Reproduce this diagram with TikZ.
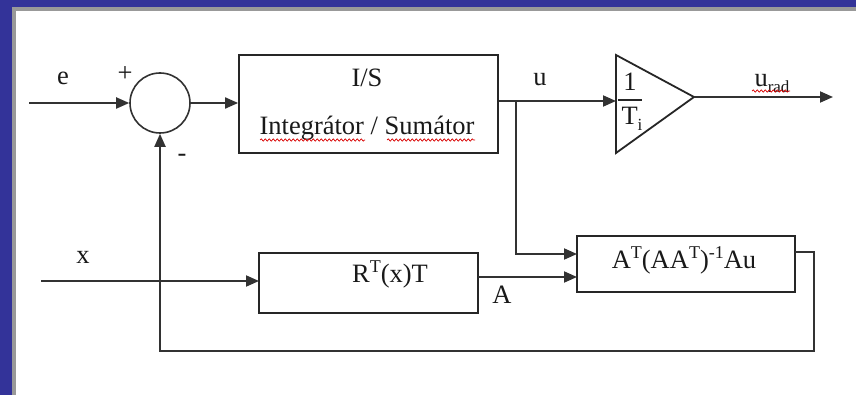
\documentclass[tikz,border=0pt]{standalone}
\usepackage{fontspec}
\setmainfont{Liberation Serif}
\usetikzlibrary{arrows.meta,decorations.pathmorphing}
\definecolor{frameblue}{RGB}{51,51,153}
\definecolor{framegray}{RGB}{153,153,153}
\definecolor{ln}{RGB}{50,50,50}
\newcommand{\supx}[1]{\raisebox{0.38em}{\fontsize{18}{18}\selectfont #1}}
\newcommand{\subx}[1]{\raisebox{-0.22em}{\fontsize{17}{17}\selectfont #1}}
\begin{document}
\begin{tikzpicture}[x=1pt,y=-1pt,
  lbl/.style={inner sep=0pt,anchor=base,text=black!90,font=\fontsize{26.5}{29}\selectfont},
  blockbox/.style={draw=black!85,line width=1.8pt,rectangle,inner sep=0pt},
  wire/.style={draw=ln,line width=1.9pt},
  arr/.style={wire,-{Triangle[length=13pt,width=11pt]}},
  squig/.style={draw=red!85!black,line width=0.7pt,decorate,decoration={snake,amplitude=1.1pt,segment length=4pt}}]
\useasboundingbox (0,0) rectangle (856,395);
\fill[white] (0,0) rectangle (856,395);
% frame
\fill[frameblue] (0,0) rectangle (856,7);
\fill[frameblue] (0,0) rectangle (12,395);
\fill[framegray] (12,7) rectangle (856,11);
\fill[framegray] (12,7) rectangle (16,395);
% blocks
\node[circle,draw=ln,line width=1.6pt,minimum size=60pt,inner sep=0pt] (sum) at (160,103) {};
\node[blockbox,minimum width=259pt,minimum height=98pt] (isbox) at (368.5,104) {};
\node[blockbox,minimum width=219pt,minimum height=60pt] (rbox) at (368.5,283) {};
\node[blockbox,minimum width=218pt,minimum height=56pt] (abox) at (686,264) {};
% gain triangle
\coordinate (tA) at (616,55);
\coordinate (tB) at (616,153);
\coordinate (tC) at (694,97);
\draw[draw=black!85,line width=1.8pt,line join=miter] (tA) -- (tC) -- (tB) -- cycle;
\coordinate (fb1) at (618,100);
\coordinate (fb2) at (642,100);
\draw[draw=black!85,line width=1.6pt] (fb1) -- (fb2);
% texts
\node[lbl] (te) at (63,85) {e};
\node[lbl] (tplus) at (125,82) {+};
\node[lbl] (tminus) at (182,162) {-};
\node[lbl] (tis) at (367,87) {I/S};
\node[lbl] (tint) at (367,135) {Integrátor / Sumátor};
\node[lbl] (tu) at (540,86) {u};
\node[lbl] (tone) at (630,91) {1};
\node[lbl] (tti) at (632,125) {T\subx{i}};
\node[lbl] (turad) at (772,87) {u\subx{rad}};
\node[lbl] (tx) at (83,263) {x};
\node[lbl] (tr) at (390,283) {R\supx{T}(x)T};
\node[lbl] (ta) at (502,303) {A};
\node[lbl] (tat) at (684,269) {A\supx{T}(AA\supx{T})\supx{-1}Au};
% spell-check squiggles
\coordinate (s1a) at (260,140); \coordinate (s1b) at (365,140);
\coordinate (s2a) at (387,140); \coordinate (s2b) at (475,140);
\coordinate (s3a) at (752,91); \coordinate (s3b) at (790,91);
\draw[squig] (s1a) -- (s1b);
\draw[squig] (s2a) -- (s2b);
\draw[squig] (s3a) -- (s3b);
% connectors
\coordinate (ein) at (29,103);
\draw[arr] (ein) -- (sum.west);
\draw[arr] (sum.east) -- (isbox.west |- sum.east);
\coordinate (br) at (516,101);
\coordinate (tin) at (616,101);
\draw[wire] (isbox.east |- br) -- (br);
\draw[arr] (br) -- (tin);
\coordinate (ain1) at (577,254);
\draw[arr] (br) |- (ain1);
\coordinate (uout) at (833,97);
\draw[arr] (tC) -- (uout);
\coordinate (xin) at (41,281);
\coordinate (rin) at (259,281);
\draw[arr] (xin) -- (rin);
\coordinate (rout) at (478,277);
\coordinate (ain2) at (577,277);
\draw[arr] (rout) -- (ain2);
\coordinate (aout) at (795,252);
\coordinate (fbr) at (814,252);
\coordinate (fbb) at (160,351);
\draw[arr] (aout) -- (fbr) |- (fbb) -- (sum.south);
\end{tikzpicture}
\end{document}
